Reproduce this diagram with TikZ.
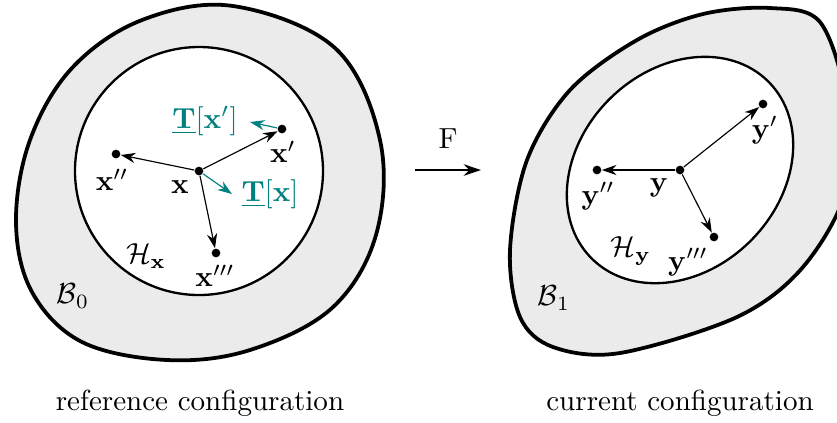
\documentclass[tikz,border=0pt]{standalone}
\usepackage{amsmath}
\usetikzlibrary{arrows.meta}
\definecolor{tealc}{RGB}{0,128,128}
\tikzset{
  pt/.style={circle,fill=black,inner sep=0pt,minimum size=3pt},
  vec/.style={-{Stealth[length=5pt,width=3.5pt]},thin},
  tvec/.style={vec,tealc},
  body/.style={fill=black!8,draw=black,line width=1.3pt},
  hood/.style={fill=white,draw=black,line width=0.8pt}
}
\begin{document}
\begin{tikzpicture}[x=0.0121cm,y=-0.0121cm]
\useasboundingbox (0,0) rectangle (837,422);
\begin{scope}
\clip (0,0) rectangle (837,422);
% reference body
\draw[body] plot[smooth cycle,tension=0.6] coordinates {(233,6) (335,48) (380,140) (376,235) (332,308) (250,350) (167,360) (82,342) (32,292) (16,222) (30,140) (72,68) (142,20)};
\draw[hood] (199,171) circle (124);
% current body
\draw[body] plot[smooth cycle,tension=0.55] coordinates {(770,8) (820,22) (846,100) (846,190) (803,267) (737,317) (620,353) (553,347) (520,317) (510,250) (527,160) (570,90) (637,40) (703,14)};
\draw[hood] (680,170) ellipse[x radius=125,y radius=100,rotate=45];
\end{scope}
% reference points
\node[pt] (x) at (199,171) {};
\node[pt] (x1) at (282,129) {};
\node[pt] (x2) at (116,154) {};
\node[pt] (x3) at (216,253) {};
\coordinate (tx) at (232,194);
\coordinate (tx1) at (250,122);
\draw[vec] (x) -- (x1);
\draw[vec] (x) -- (x2);
\draw[vec] (x) -- (x3);
\draw[tvec] (x) -- (tx);
\draw[tvec] (x1) -- (tx1);
\node (lx) at (180,187) {$\mathbf{x}$};
\node (lx1) at (283,152) {$\mathbf{x}'$};
\node (lx2) at (112,180) {$\mathbf{x}''$};
\node (lx3) at (215,276) {$\mathbf{x}'''$};
\node[tealc] (ltx) at (270,194) {$\underline{\mathbf{T}}[\mathbf{x}]$};
\node[tealc] (ltx1) at (205,121) {$\underline{\mathbf{T}}[\mathbf{x}']$};
\node (hx) at (146,256) {$\mathcal{H}_{\mathbf{x}}$};
\node (b0) at (73,296) {$\mathcal{B}_0$};
% map
\coordinate (fa) at (415,170);
\coordinate (fb) at (481,170);
\draw[-{Stealth[length=6pt,width=4pt]},thin] (fa) -- (fb) node[midway,above=4pt] (F) {F};
% current points
\node[pt] (y) at (680,170) {};
\node[pt] (y1) at (763,104) {};
\node[pt] (y2) at (597,170) {};
\node[pt] (y3) at (714,237) {};
\draw[vec] (y) -- (y1);
\draw[vec] (y) -- (y2);
\draw[vec] (y) -- (y3);
\node (ly) at (659,188) {$\mathbf{y}$};
\node (ly1) at (765,130) {$\mathbf{y}'$};
\node (ly2) at (598,196) {$\mathbf{y}''$};
\node (ly3) at (688,262) {$\mathbf{y}'''$};
\node (hy) at (631,251) {$\mathcal{H}_{\mathbf{y}}$};
\node (b1) at (554,298) {$\mathcal{B}_1$};
% captions
\node (cref) at (200,403) {reference configuration};
\node (ccur) at (680,403) {current configuration};
\end{tikzpicture}
\end{document}
